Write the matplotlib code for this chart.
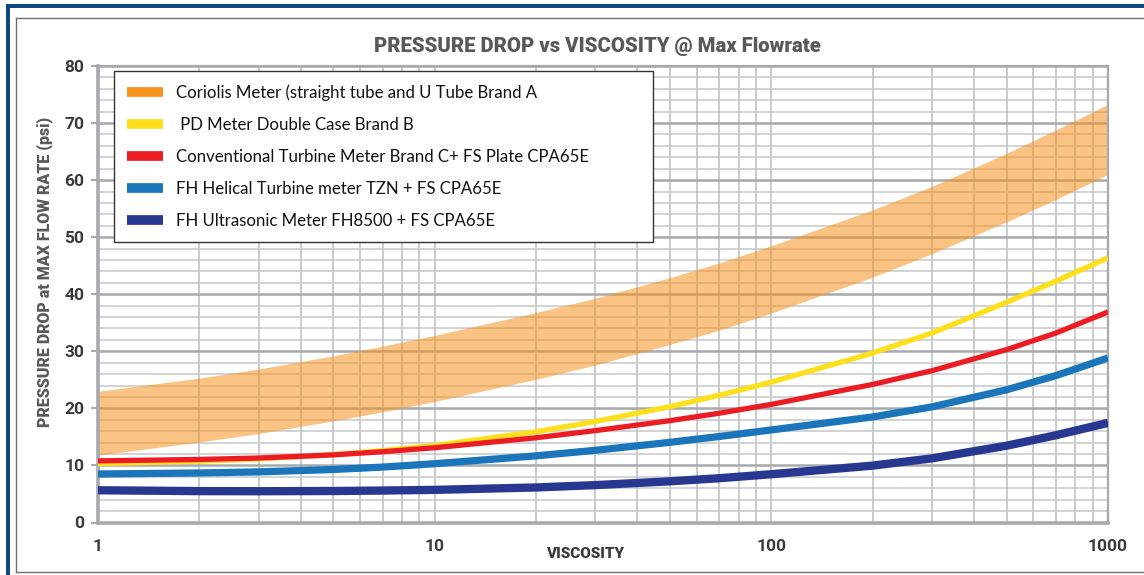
import matplotlib
matplotlib.use("Agg")
import matplotlib.pyplot as plt
from matplotlib.lines import Line2D
from matplotlib.ticker import FixedLocator, NullFormatter, FixedFormatter
import matplotlib.patches as mpatches

# ---- data ----
viscosity = [1, 2, 3, 5, 7, 10, 20, 30, 50, 70, 100, 200, 300, 500, 700, 1000]
coriolis_upper = [23.0, 25.3, 26.9, 29.2, 30.9, 32.8, 36.8, 39.3, 42.9, 45.5, 48.5, 54.8, 58.9, 64.7, 68.8, 73.3]
coriolis_lower = [11.8, 14.1, 15.6, 17.8, 19.4, 21.2, 25.1, 27.6, 31.2, 33.7, 36.7, 43.0, 47.1, 52.7, 56.6, 61.0]
pd_meter = [10.3, 10.75, 11.15, 11.9, 12.6, 13.5, 15.9, 17.7, 20.3, 22.3, 24.6, 29.7, 33.2, 38.6, 42.3, 46.4]
conv_turbine = [10.8, 11.05, 11.3, 11.85, 12.4, 13.1, 14.85, 16.1, 17.85, 19.15, 20.7, 24.2, 26.6, 30.3, 33.2, 36.9]
helical = [8.5, 8.68, 8.87, 9.29, 9.71, 10.3, 11.68, 12.65, 14.05, 15.07, 16.22, 18.5, 20.26, 23.26, 25.74, 28.84]
ultrasonic = [5.65, 5.5, 5.48, 5.52, 5.6, 5.72, 6.14, 6.55, 7.22, 7.76, 8.46, 9.97, 11.24, 13.46, 15.29, 17.46]

legend_labels = [
    "Coriolis Meter (straight tube and U Tube Brand A",
    " PD Meter Double Case Brand B",
    "Conventional Turbine Meter Brand C+ FS Plate CPA65E",
    "FH Helical Turbine meter TZN + FS CPA65E",
    "FH Ultrasonic Meter FH8500 + FS CPA65E",
]
x_tick_vals = [1, 10, 100, 1000]
x_tick_labels = ["1", "10", "100", "1000"]
y_tick_vals = [0, 10, 20, 30, 40, 50, 60, 70, 80]

title = "PRESSURE DROP vs VISCOSITY @ Max Flowrate"
xlabel = "VISCOSITY"
ylabel = "PRESSURE DROP at MAX FLOW RATE (psi)"

# ---- style ----
C_ORANGE = "#F7931E"
C_YELLOW = "#FDDF1C"
C_RED = "#EC1C24"
C_BLUE = "#1B75BB"
C_NAVY = "#283891"
TXT = "#3A3A3C"
FONT = ["Lato", "DejaVu Sans"]
BOLD = ["Roboto", "DejaVu Sans"]

W, H = 1144, 575
fig = plt.figure(figsize=(W / 100, H / 100), dpi=100)
fig.patch.set_facecolor("white")

# outer frame decorations
fig.add_artist(mpatches.Rectangle((6 / W, 0), 4 / W, (H - 4) / H, transform=fig.transFigure,
                                  facecolor="#0D4A85", edgecolor="none"))
fig.add_artist(mpatches.Rectangle((6 / W, (H - 8) / H), (W - 6) / W, 4 / H, transform=fig.transFigure,
                                  facecolor="#0D4A85", edgecolor="none"))
fig.add_artist(Line2D([16 / W, 16 / W], [(H - 572) / H, (H - 18) / H], transform=fig.transFigure,
                      color="#6D6E71", lw=1.0))
fig.add_artist(Line2D([16 / W, 1], [(H - 18) / H, (H - 18) / H], transform=fig.transFigure,
                      color="#6D6E71", lw=1.0))
fig.add_artist(Line2D([16 / W, 1], [(H - 572) / H, (H - 572) / H], transform=fig.transFigure,
                      color="#6D6E71", lw=1.0))

ax_l, ax_r, ax_t, ax_b = 98, 1108, 66, 522.5
ax = fig.add_axes([ax_l / W, (H - ax_b) / H, (ax_r - ax_l) / W, (ax_b - ax_t) / H])
ax.set_xscale("log")
ax.set_xlim(1, 1000)
ax.set_ylim(0, 80)
ax.set_axisbelow(True)

ax.xaxis.set_major_locator(FixedLocator(x_tick_vals))
ax.xaxis.set_major_formatter(FixedFormatter(x_tick_labels))
ax.xaxis.set_minor_locator(FixedLocator([m * d for d in (1, 10, 100) for m in range(2, 10)]))
ax.xaxis.set_minor_formatter(NullFormatter())
ax.yaxis.set_major_locator(FixedLocator(y_tick_vals))
ax.yaxis.set_minor_locator(FixedLocator([v for v in range(0, 81, 2) if v % 10]))

ax.grid(which="major", axis="y", color="#A7A9AC", lw=1.8)
ax.grid(which="minor", axis="y", color="#C6C7C9", lw=1.1)
ax.grid(which="both", axis="x", color="#C6C7C9", lw=1.3)

for s in ax.spines.values():
    s.set_color("#A7A9AC")
    s.set_linewidth(1.6)
ax.spines["left"].set_linewidth(2.6)
ax.spines["bottom"].set_linewidth(2.6)

ax.tick_params(axis="x", which="both", length=0, pad=12, labelsize=12.5, labelcolor=TXT)
ax.tick_params(axis="y", which="major", length=5, width=1.5, color="#A7A9AC", pad=5,
               labelsize=12.5, labelcolor=TXT)
ax.tick_params(axis="y", which="minor", length=0)
for lab in ax.get_xticklabels() + ax.get_yticklabels():
    lab.set_fontweight("bold")
    lab.set_family(BOLD)

# band + curves
ax.fill_between(viscosity, coriolis_lower, coriolis_upper, color=C_ORANGE, alpha=0.55,
                lw=0, zorder=1)
ax.plot(viscosity, pd_meter, color=C_YELLOW, lw=3.8, zorder=3, solid_capstyle="butt")
ax.plot(viscosity, conv_turbine, color=C_RED, lw=3.8, zorder=4, solid_capstyle="butt")
ax.plot(viscosity, helical, color=C_BLUE, lw=5.2, zorder=3, solid_capstyle="butt")
ax.plot(viscosity, ultrasonic, color=C_NAVY, lw=6.0, zorder=3, solid_capstyle="butt")

# legend
handles = [Line2D([0], [0], color=c, lw=7, solid_capstyle="butt")
           for c in (C_ORANGE, C_YELLOW, C_RED, C_BLUE, C_NAVY)]
ax_w, ax_h = ax_r - ax_l, ax_b - ax_t
leg = ax.legend(handles, legend_labels, loc="upper left", mode="expand",
                bbox_to_anchor=((114 - ax_l) / ax_w, 0, (653 - 114) / ax_w, 1 - 5 / ax_h),
                frameon=True, fancybox=False, edgecolor="#333333", framealpha=1,
                prop={"family": FONT, "size": 12.1}, handlelength=2.14, handletextpad=0.77,
                labelspacing=0.95, borderpad=0.8, borderaxespad=0)
leg.get_frame().set_linewidth(1.0)
leg.set_zorder(10)
for t in leg.get_texts():
    t.set_color("#111111")

# titles
fig.text(597 / W, (H - 46) / H, title, ha="center", va="center", fontsize=14.6,
         fontweight="heavy", color="#58595B", family=BOLD)
fig.text(585 / W, (H - 554) / H, xlabel, ha="center", va="center", fontsize=11,
         fontweight="heavy", color=TXT, family=BOLD)
fig.text(45 / W, (H - 272) / H, ylabel, ha="center", va="center", fontsize=11.5,
         fontweight="heavy", color="#58595B", family=BOLD, rotation=90)

fig.savefig("out.png", dpi=100)
